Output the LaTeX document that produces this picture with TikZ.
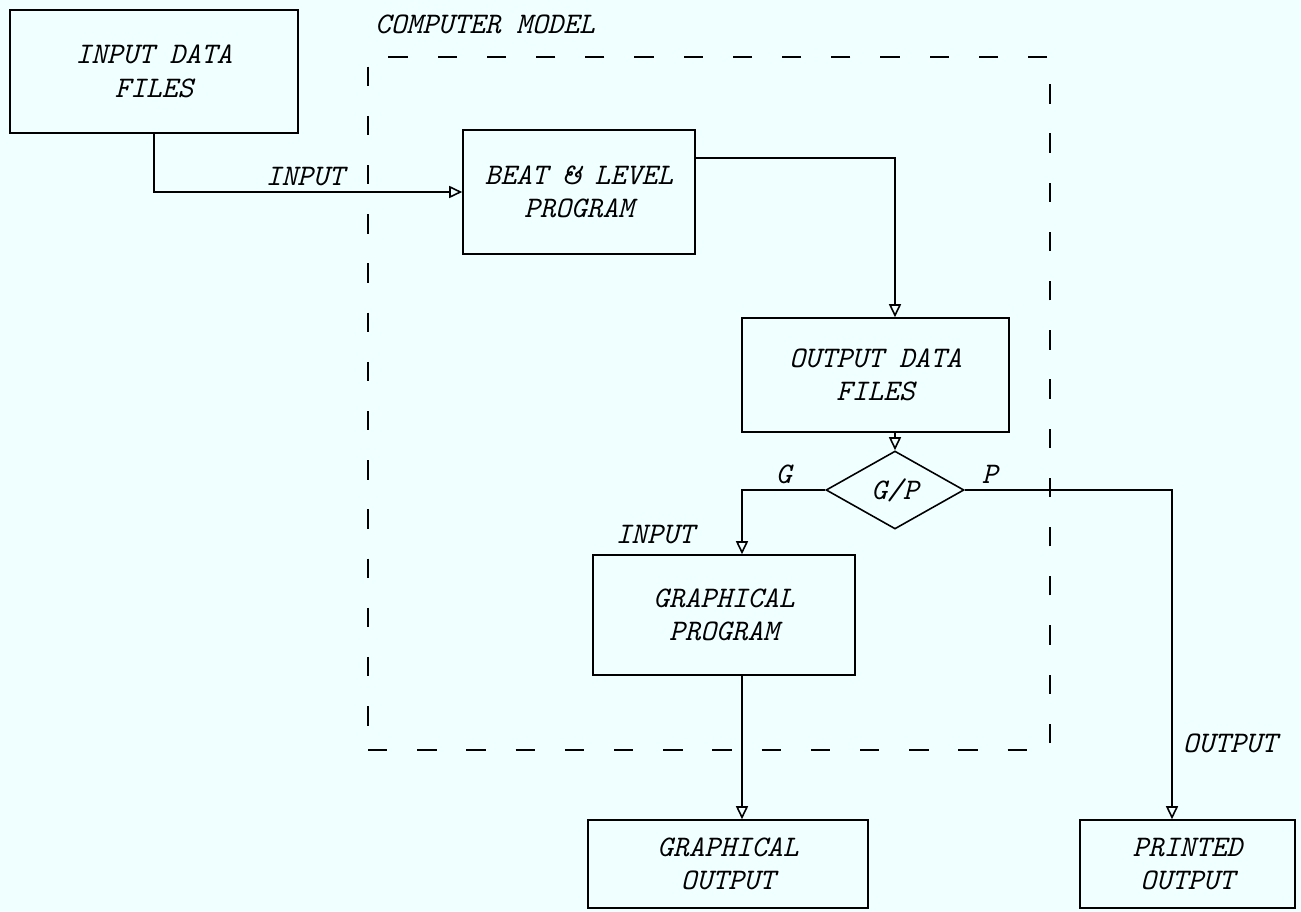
\documentclass[tikz,border=0pt]{standalone}
\usepackage{tikz}
\usetikzlibrary{shapes.geometric, arrows.meta, positioning, calc}
\definecolor{paper}{HTML}{F0FFFF}

\begin{document}
\begin{tikzpicture}[
    x=0.02cm, y=-0.02cm,
    txt/.style={font=\fontsize{17}{19}\selectfont\ttfamily\itshape},
    block/.style={rectangle, draw, line width=0.9pt, align=center, txt},
    decision/.style={diamond, draw, line width=0.9pt, inner sep=0pt, minimum width=2.76cm, minimum height=1.56cm, txt},
    modelbox/.style={rectangle, draw, line width=0.9pt, dash pattern=on 11pt off 17pt, minimum width=13.64cm, minimum height=13.86cm},
    arrow/.style={-{Triangle[open, length=2.6mm, width=2.4mm]}, line width=0.9pt}
]
    \fill[paper] (0,0) rectangle (1301,912);
    \useasboundingbox (0,0) rectangle (1301,912);

    \node[modelbox] (model) at (709,403.5) {};
    \node[txt] (modeltitle) at (485,24) {COMPUTER MODEL};

    \node[block, minimum width=5.76cm, minimum height=2.46cm] (infiles) at (154,71.5) {INPUT DATA\\FILES};
    \node[block, minimum width=4.64cm, minimum height=2.48cm] (beat) at (579,192) {BEAT \& LEVEL\\PROGRAM};
    \node[block, minimum width=5.34cm, minimum height=2.28cm] (outfiles) at (875.5,375) {OUTPUT DATA\\FILES};
    \node[decision] (gp) at (895,490) {G/P};
    \node[block, minimum width=5.24cm, minimum height=2.40cm] (graph) at (724,615) {GRAPHICAL\\PROGRAM};
    \node[block, minimum width=5.60cm, minimum height=1.76cm] (graphout) at (728,864) {GRAPHICAL\\OUTPUT};
    \node[block, minimum width=4.30cm, minimum height=1.76cm] (printed) at (1187.5,864) {PRINTED\\OUTPUT};

    \draw[arrow] (infiles.south) |- node[txt, pos=0.745, above] {INPUT} (beat.west);
    \draw[arrow] ([yshift=0.68cm]beat.east) -| (gp |- outfiles.north);
    \draw[arrow] (gp |- outfiles.south) -- (gp.north);
    \draw[arrow] (gp.west) -| node[txt, pos=0.25, above] {G} ([xshift=0.36cm]graph.north);
    \node[txt] (ginput) at (655,535) {INPUT};
    \draw[arrow] (gp.east) -| node[txt, pos=0.06, above] {P} ([xshift=-0.31cm]printed.north);
    \node[txt] (poutput) at (1230,743) {OUTPUT};
    \draw[arrow] ([xshift=0.36cm]graph.south) -- ([xshift=0.36cm]graph.south |- graphout.north);
\end{tikzpicture}
\end{document}
